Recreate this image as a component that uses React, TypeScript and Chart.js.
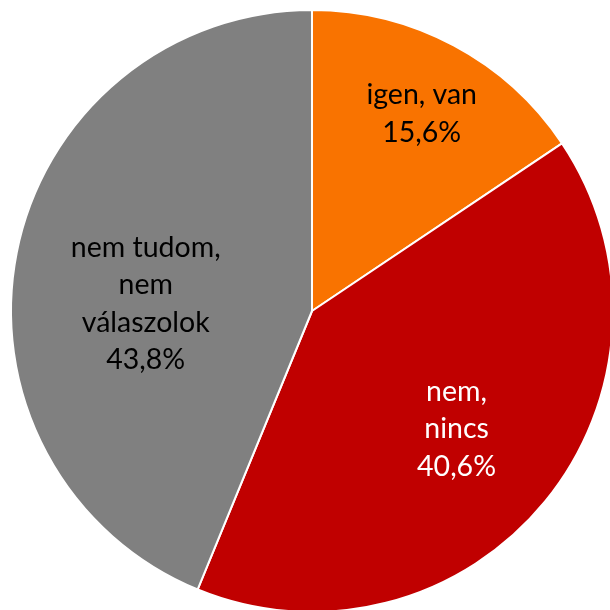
import React, { useEffect, useRef } from "react";
import { Chart, registerables } from "chart.js";

Chart.register(...registerables);

const categories: string[][] = [
  ["igen, van"],
  ["nem,", "nincs"],
  ["nem tudom,", "nem", "válaszolok"],
];
const values: number[] = [15.6, 40.6, 43.8];
const valueLabels: string[] = ["15,6%", "40,6%", "43,8%"];
const colors: string[] = ["#F97300", "#C00000", "#808080"];
const textColors: string[] = ["#000000", "#FFFFFF", "#000000"];

const labelPlugin = {
  id: "sliceLabels",
  afterDatasetsDraw(chart: any, _args: any, opts: any) {
    const ctx = chart.ctx;
    const meta = chart.getDatasetMeta(0);
    meta.data.forEach((arc: any, i: number) => {
      const { x, y, startAngle, endAngle, outerRadius } = arc.getProps(
        ["x", "y", "startAngle", "endAngle", "outerRadius"],
        true
      );
      const mid = (startAngle + endAngle) / 2 + (opts.angleOffsets[i] * Math.PI) / 180;
      const r = outerRadius * opts.radiusFactors[i];
      const cx = x + Math.cos(mid) * r;
      const cy = y + Math.sin(mid) * r;
      const lines = [...categories[i], valueLabels[i]];
      const lh = opts.lineHeight;
      ctx.save();
      ctx.font = opts.font;
      ctx.fillStyle = textColors[i];
      ctx.textAlign = "center";
      ctx.textBaseline = "middle";
      const top = cy - ((lines.length - 1) * lh) / 2;
      lines.forEach((t, k) => ctx.fillText(t, cx, top + k * lh));
      ctx.restore();
    });
  },
};

export default function App() {
  const ref = useRef<HTMLCanvasElement>(null);
  useEffect(() => {
    if (!ref.current) return;
    const chart = new Chart(ref.current, {
      type: "pie",
      data: {
        labels: categories.map((c) => c.join(" ")),
        datasets: [
          {
            data: values,
            backgroundColor: colors,
            borderColor: "#FFFFFF",
            borderWidth: 2,
          },
        ],
      },
      options: {
        animation: false,
        responsive: false,
        layout: { padding: 10 },
        plugins: {
          legend: { display: false },
          tooltip: { enabled: false },
          sliceLabels: {
            radiusFactors: [0.75, 0.62, 0.553],
            angleOffsets: [1, 0, -8.6],
            lineHeight: 37.5,
            font: "28.5px Lato",
          },
        } as any,
      },
      plugins: [labelPlugin],
    });
    return () => chart.destroy();
  }, []);
  return (
    <div
      style={{
        position: "fixed",
        left: 0,
        top: 0,
        width: 610,
        height: 610,
        overflow: "hidden",
        background: "#fff",
      }}
    >
      <canvas
        ref={ref}
        width={624}
        height={624}
        style={{ position: "absolute", left: 0, top: -1, width: 624, height: 624 }}
      />
    </div>
  );
}
